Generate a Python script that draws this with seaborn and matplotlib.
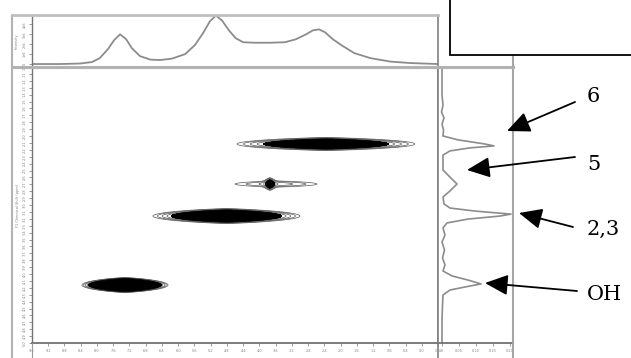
import numpy as np
import pandas as pd
import matplotlib
matplotlib.use("Agg")
import matplotlib.pyplot as plt
import seaborn as sns
from matplotlib.patches import Rectangle, FancyArrowPatch
from matplotlib.lines import Line2D

# ---------------- data ----------------
# 2D cross peaks: centre (x, y), half length, half height, amplitude
peak_x = [72.4, 60.1, 47.9, 22.9, 58.6]
peak_y = [27.9, 42.4, 54.0, 79.0, 42.4]
peak_halflen = [21.9, 10.1, 18.1, 10.6, 1.6]
peak_halfht = [2.35, 1.1, 2.7, 2.7, 2.3]
peak_amp = [156, 4, 403, 10100, 30]
peak_shape = 1.3

# top projection
top_x = [0, 6.9, 11.8, 14.8, 16.7, 18.7, 20.2, 21.7, 23.2, 24.6, 26.6, 29.1, 31.5,
         34.5, 37.7, 40.1, 42.1, 43.8, 45.3, 46.8, 48.5, 50.2, 52.0, 54.9, 58.6,
         62.3, 65.0, 67.5, 69.2, 70.7, 72.2, 74.1, 76.6, 79.4, 83.3, 88.2, 93.1, 100]
top_int = [0, 0, 0.5, 2, 6, 15, 24, 30, 25, 16, 8, 4.5, 4, 5.5, 10, 19, 31, 43, 49,
           44, 34, 26, 22, 21.5, 21.5, 22, 25, 30, 34, 35, 32, 25, 18, 11, 6, 2.5, 1, 0]

# right projection
right_y = [0, 10.1, 13.8, 16.3, 18.5, 20.7, 22.8, 25.0, 26.4, 27.9, 28.6, 29.3, 30.4,
           31.9, 34.4, 37.3, 39.9, 42.4, 44.9, 47.1, 49.6, 51.1, 52.2, 53.3, 54.0,
           55.1, 56.5, 58.3, 60.9, 63.4, 66.3, 69.2, 71.7, 73.9, 75.7, 77.2, 78.6,
           79.7, 80.8, 82.6, 86.2, 91.7, 100]
right_int = [0, 0, 1, -0.5, 2, 0, 1.5, 1, 16, 43, 52, 28, 8, 1, 1, 1, 8, 15, 8, 1, 2,
             8, 33, 69, 58, 26, 5, 1, 3, 0, 2.5, 0.5, 3, 1, 10, 26, 39, 23, 8, 1,
             0.5, 0, 0]

labels = ["6", "5", "2,3", "OH"]
label_pos = [(587, 97), (587, 165), (587, 229), (587, 294)]
arrow_tail = [(575, 102), (575, 157), (573, 227), (577, 291)]
arrow_tip = [(507, 131), (467, 170), (519, 213), (485, 283)]

x_ticks = list(range(0, 101, 4))
x_ticklabels = [f"{v / 10:.1f}" for v in range(96, -5, -4)]
y_ticks = list(np.arange(0, 100.1, 2.5))
y_ticklabels = [f"{v:.1f}" for v in np.arange(1.0, 5.01, 0.1)]
r_ticks = [0, 17, 34, 51, 68]
r_ticklabels = ["0", "0.05", "0.10", "0.15", "0.20"]

# ---------------- figure ----------------
sns.set_theme(style="white")
plt.rcParams["font.family"] = ["DejaVu Sans"]

W, H = 631, 358
fig = plt.figure(figsize=(W / 100, H / 100), dpi=100)
fig.patch.set_facecolor("white")


def fr(x0, y0, x1, y1):
    return [x0 / W, 1 - y1 / H, (x1 - x0) / W, (y1 - y0) / H]


def fp(x, y):
    return (x / W, 1 - y / H)


ax = fig.add_axes(fr(32, 67, 438, 343))
axt = fig.add_axes(fr(32, 15, 438, 67), sharex=ax)
axr = fig.add_axes(fr(438, 67, 513, 343), sharey=ax)

# 2D contour surface
xs = np.linspace(0, 100, 1000)
ys = np.linspace(0, 100, 800)
X, Y = np.meshgrid(xs, ys)
Z = np.zeros_like(X)
p = peak_shape
for x0, y0, hl, hh, A in zip(peak_x, peak_y, peak_halflen, peak_halfht, peak_amp):
    lnA = np.log(A)
    wx = hl / lnA ** (1 / p)
    sy = hh / np.sqrt(2 * lnA)
    Z += A * np.exp(-np.abs((X - x0) / wx) ** p - 0.5 * ((Y - y0) / sy) ** 2)

ax.contour(X, Y, Z, levels=[1, 1.6, 2.6, 4.2], colors="0.35", linewidths=0.5)
ax.contourf(X, Y, Z, levels=[6.5, 1e9], colors="black")
ax.contour(X, Y, Z, levels=[6.5], colors="black", linewidths=0.6)
ax.set_xlim(0, 100)
ax.set_ylim(100, 0)

# projections
sns.lineplot(x=top_x, y=top_int, ax=axt, color="0.55", lw=1.3)
axt.set_ylim(-3, 49.5)
sns.lineplot(x=right_int, y=right_y, ax=axr, color="0.55", lw=1.2,
             sort=False, estimator=None, orient="y")
axr.set_xlim(-4, 71)
axr.set_ylim(100, 0)

tick_kw = dict(labelsize=2.5, labelcolor="0.5", color="0.45", width=0.5)
ax.set_xticks(x_ticks)
ax.set_xticklabels(x_ticklabels)
ax.set_yticks(y_ticks)
ax.set_yticklabels(y_ticklabels, rotation=90, va="center")
ax.tick_params(axis="both", direction="out", length=2.5, pad=1.5, bottom=True, left=True, **tick_kw)
ax.set_ylabel("F1 Chemical Shift (ppm)", fontsize=2.5, color="0.5", labelpad=2)
ax.set_xlabel("")

axt.set_yticks([0, 10, 20, 30, 40])
axt.set_yticklabels(["0", "1e6", "2e6", "3e6", "4e6"], rotation=90, va="center")
axt.tick_params(axis="y", direction="out", length=2.5, pad=1.5, left=True, **tick_kw)
axt.tick_params(axis="x", bottom=False, labelbottom=False)
axt.set_ylabel("Intensity", fontsize=2.5, color="0.5", labelpad=3)
axt.set_xlabel("")

axr.set_xticks(r_ticks)
axr.set_xticklabels(r_ticklabels)
axr.tick_params(axis="x", direction="out", length=2.5, pad=1.5, bottom=True, **tick_kw)
axr.tick_params(axis="y", left=False, labelleft=False)
axr.set_xlabel("")
axr.set_ylabel("")

for a in (ax, axt, axr):
    a.set_facecolor("white")
    for s in a.spines.values():
        s.set_visible(True)

ax.spines["left"].set_color("0.45"); ax.spines["left"].set_linewidth(1.0)
ax.spines["bottom"].set_color("0.4"); ax.spines["bottom"].set_linewidth(1.2)
ax.spines["top"].set_color("0.7"); ax.spines["top"].set_linewidth(2.2)
ax.spines["right"].set_color("0.5"); ax.spines["right"].set_linewidth(1.2)
axt.spines["left"].set_color("0.45"); axt.spines["left"].set_linewidth(1.0)
axt.spines["top"].set_color("0.75"); axt.spines["top"].set_linewidth(2.0)
axt.spines["right"].set_color("0.5"); axt.spines["right"].set_linewidth(1.2)
axt.spines["bottom"].set_color("0.7"); axt.spines["bottom"].set_linewidth(2.2)
axr.spines["left"].set_color("0.5"); axr.spines["left"].set_linewidth(1.2)
axr.spines["top"].set_color("0.7"); axr.spines["top"].set_linewidth(2.2)
axr.spines["right"].set_color("0.65"); axr.spines["right"].set_linewidth(1.5)
axr.spines["bottom"].set_color("0.4"); axr.spines["bottom"].set_linewidth(1.2)


# outer frame lines
def fline(p0, p1, color, lw):
    (x0, y0), (x1, y1) = fp(*p0), fp(*p1)
    fig.add_artist(Line2D([x0, x1], [y0, y1], color=color, lw=lw, transform=fig.transFigure))


fline((12, 15), (12, 358), "0.7", 1.5)
fline((12, 15), (32, 15), "0.75", 2.0)
fline((12, 67), (32, 67), "0.7", 2.2)
fline((32, 343), (32, 358), "0.6", 0.8)
fline((438, 343), (438, 358), "0.5", 1.2)
fline((513, 56), (513, 67), "0.65", 1.5)
fline((513, 343), (513, 358), "0.65", 1.5)

# box in the top right
bx, by = fp(450, 55)
fig.add_artist(Rectangle((bx, by), 1.0, 0.5, transform=fig.transFigure,
                         facecolor="white", edgecolor="black", lw=1.3, zorder=5))

# arrows and labels
for lab, (lx, ly), tail, tip in zip(labels, label_pos, arrow_tail, arrow_tip):
    fig.text(*fp(lx, ly), lab, fontsize=15, family="DejaVu Serif",
             ha="left", va="center", color="black", zorder=6)
    arr = FancyArrowPatch(fp(*tail), fp(*tip), transform=fig.transFigure,
                          arrowstyle="-|>,head_length=1.0,head_width=0.45",
                          mutation_scale=14, color="black", lw=1.3,
                          shrinkA=0, shrinkB=0, zorder=6)
    fig.add_artist(arr)

fig.savefig("out.png", dpi=100, facecolor="white")
